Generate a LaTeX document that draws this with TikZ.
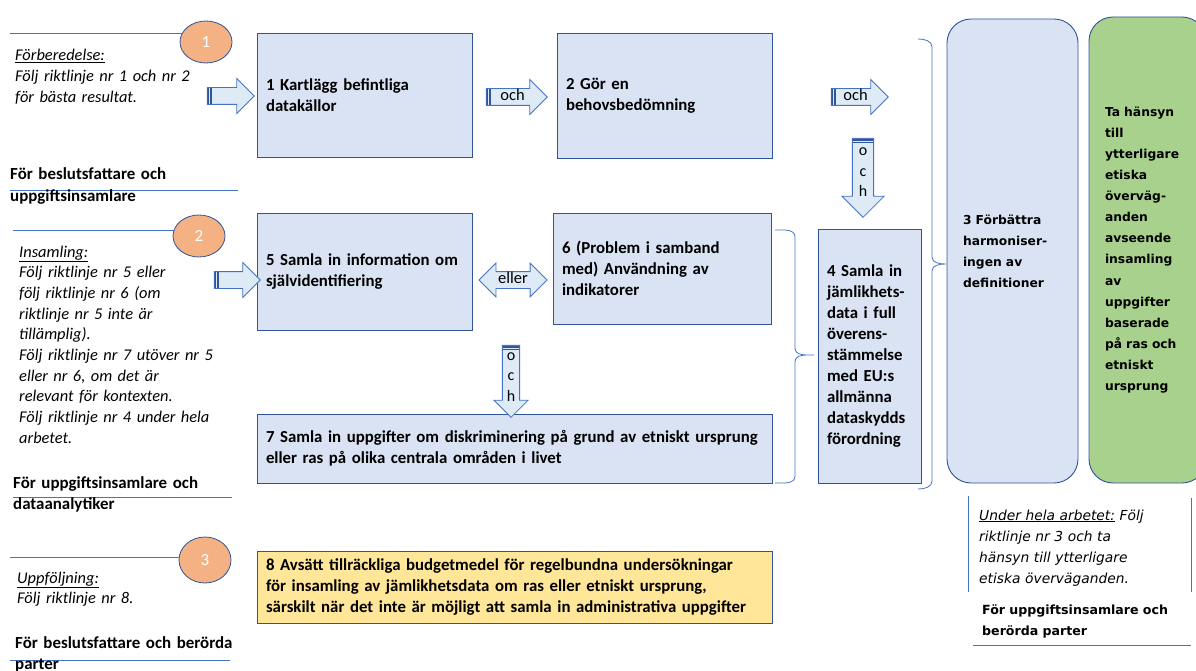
\documentclass[tikz,border=0pt]{standalone}
\usepackage{fontspec}
\setmainfont{Carlito}
\newfontfamily\verdfont{DejaVu Sans}
\usetikzlibrary{shapes.geometric,shapes.arrows}

\definecolor{boxfill}{HTML}{DAE3F3}
\definecolor{boxline}{HTML}{2F5597}
\definecolor{arrfill}{HTML}{DEEBF7}
\definecolor{arrline}{HTML}{4472C4}
\definecolor{arrdark}{HTML}{2F5597}
\definecolor{circfill}{HTML}{F4B183}
\definecolor{etikgreen}{HTML}{A9D18E}
\definecolor{budgetfill}{HTML}{FFE699}
\definecolor{sepblue}{HTML}{4472C4}

\newcommand{\boxfont}{\fontsize{16.8}{21}\selectfont\bfseries}
\newcommand{\sidefont}{\fontsize{16.4}{20.7}\selectfont}
\newcommand{\verdbold}{\verdfont\fontsize{12.3}{21.07}\selectfont\bfseries}

\tikzset{
  stepbox/.style={draw=boxline, fill=boxfill, line width=0.9pt, inner xsep=9pt, inner ysep=0pt, align=left, font=\boxfont},
  roundbox/.style={stepbox, rounded corners=24pt, inner xsep=16pt, font=\verdbold},
  numcirc/.style={ellipse, draw=boxline, fill=circfill, line width=0.8pt, minimum width=52pt, minimum height=42pt, inner sep=0pt, text=white, font=\fontsize{17}{18}\selectfont},
  phasetext/.style={anchor=base west, inner sep=0pt, align=left, text width=240pt, font=\sidefont\itshape},
  roletext/.style={anchor=base west, inner sep=0pt, align=left, text width=240pt, font=\fontsize{16.9}{21}\selectfont\bfseries},
  sepline/.style={draw=sepblue, line width=0.7pt},
  bracket/.style={draw=arrline, line width=0.8pt},
  blockarr/.style={single arrow, draw=arrline, fill=arrfill, line width=0.8pt, single arrow head extend=9pt, inner xsep=2pt, inner ysep=2.5pt, text height=9pt, text depth=2pt, font=\fontsize{16.5}{18}\selectfont},
  vertarr/.style={single arrow, draw=arrline, fill=arrfill, line width=0.8pt, shape border rotate=270, inner ysep=1pt, align=center, font=\fontsize{16}{20.5}\selectfont},
  tailleft/.style={path picture={
    \fill[arrdark] (path picture bounding box.north west) rectangle ([xshift=5pt]path picture bounding box.south west);
    \draw[arrfill, line width=0.6pt] ([xshift=2.5pt]path picture bounding box.north west) -- ([xshift=2.5pt]path picture bounding box.south west);}},
  tailtop/.style={path picture={
    \fill[arrdark] (path picture bounding box.north west) rectangle ([yshift=-5pt]path picture bounding box.north east);
    \draw[arrfill, line width=0.6pt] ([yshift=-2.5pt]path picture bounding box.north west) -- ([yshift=-2.5pt]path picture bounding box.north east);}}
}

\begin{document}
\begin{tikzpicture}[x=1pt, y=-1pt]
  \useasboundingbox (0,0) rectangle (1196,671);

  % steg
  \node[stepbox, text width=197pt, minimum height=124pt] (kartlagg) at (364.5,95) {1 Kartlägg befintliga\\datakällor};
  \node[stepbox, text width=197pt, minimum height=125pt] (behov) at (664.5,95.5) {2 Gör en\\behovsbedömning};
  \node[stepbox, text width=197pt, minimum height=117pt] (sjalvid) at (364.5,271.5) {5 Samla in information om\\självidentifiering};
  \node[stepbox, text width=200pt, minimum height=111pt] (indikator) at (662,268.5) {6 (Problem i samband\\med) Användning av\\indikatorer};
  \node[stepbox, text width=497pt, minimum height=69pt] (diskrim) at (514.5,448.5) {7 Samla in uppgifter om diskriminering på grund av etniskt ursprung\\eller ras på olika centrala områden i livet};
  \node[stepbox, text width=85pt, minimum height=254pt] (jamlik) at (869.5,356) {4 Samla in\\jämlikhets-\\data i full\\överens-\\stämmelse\\med EU:s\\allmänna\\dataskydds\\förordning};
  \node[stepbox, fill=budgetfill, text width=497pt, minimum height=72pt] (budget) at (514.5,587) {8 Avsätt tillräckliga budgetmedel för regelbundna undersökningar\\för insamling av jämlikhetsdata om ras eller etniskt ursprung,\\särskilt när det inte är möjligt att samla in administrativa uppgifter};
  \node[roundbox, text width=99pt, minimum height=464pt] (harmon) at (1012.5,251) {3 Förbättra\\harmoniser-\\ingen av\\definitioner};
  \node[roundbox, fill=etikgreen, text width=85pt, minimum height=466pt] (etik) at (1147.5,250) {Ta hänsyn\\till\\ytterligare\\etiska\\överväg-\\anden\\avseende\\insamling\\av\\uppgifter\\baserade\\på ras och\\etniskt\\ursprung};

  % pilar
  \node[blockarr, tailleft, minimum height=47pt, minimum width=34pt] (in1) at (226.5,96) {};
  \node[blockarr, tailleft, minimum height=46pt, minimum width=34pt] (in5) at (233,280) {};
  \node[blockarr, tailleft, minimum height=61pt, minimum width=33pt] (och1) at (512.5,97) {och};
  \node[blockarr, tailleft, minimum height=57pt, minimum width=33pt] (och2) at (855.5,97) {och};
  \node[blockarr, double arrow, double arrow head extend=8.5pt, minimum height=68pt, minimum width=33pt] (eller) at (513,280) {eller};
  \node[vertarr, tailtop, inner xsep=6pt, single arrow head extend=10.5pt, minimum height=79pt, minimum width=41pt] (och3) at (863,172.5) {o\\c\\h};
  \node[vertarr, tailtop, inner xsep=4pt, single arrow head extend=8.5pt, minimum height=72pt, minimum width=33pt] (och4) at (511,377) {o\\c\\h};

  % klamrar
  \draw[bracket] (918,39) to[out=0,in=90] (932,47) -- (932,257) to[out=-90,in=180] (946,264)
    to[out=180,in=90] (932,271) -- (932,481) to[out=-90,in=0] (918,489);
  \draw[bracket] (775,230) to[out=0,in=90] (795,237) -- (795,348) to[out=-90,in=180] (814,355)
    to[out=180,in=90] (795,362) -- (795,476) to[out=-90,in=0] (775,483);

  % faser
  \node[numcirc] (fas1) at (206,42) {1};
  \node[numcirc] (fas2) at (199,236) {2};
  \node[numcirc, minimum height=46pt] (fas3) at (205,560) {3};
  \coordinate (s1) at (10,33);
  \coordinate (s2) at (13,230);
  \coordinate (s3) at (10,557);
  \draw[sepline] (s1) -- (s1 -| fas1.155);
  \draw[sepline] (s2) -- (s2 -| fas2.165);
  \draw[sepline] (s3) -- (s3 -| fas3.172);
  \draw[sepline] (10,190) -- (238,190);
  \draw[sepline] (13,497) -- (232,497);
  \draw[sepline] (10,660) -- (230,660);

  \node[phasetext] (forbered) at (15,61) {\underline{Förberedelse:}\\Följ riktlinje nr 1 och nr 2\\för bästa resultat.};
  \node[roletext] (roll1) at (10,180) {För beslutsfattare och\\uppgiftsinsamlare};
  \node[phasetext] (insaml) at (19,257) {\underline{Insamling:}\\Följ riktlinje nr 5 eller\\följ riktlinje nr 6 (om\\riktlinje nr 5 inte är\\tillämplig).\\Följ riktlinje nr 7 utöver nr 5\\eller nr 6, om det är\\relevant för kontexten.\\Följ riktlinje nr 4 under hela\\arbetet.};
  \node[roletext] (roll2) at (13,488) {För uppgiftsinsamlare och\\dataanalytiker};
  \node[phasetext] (uppfolj) at (17,583) {\underline{Uppföljning:}\\Följ riktlinje nr 8.};
  \node[roletext] (roll3) at (15,648) {För beslutsfattare och berörda\\parter};

  % hela arbetet
  \draw[sepline] (968,496) -- (968,592);
  \draw[sepline] (1191,498) -- (1191,592);
  \draw[sepline] (973,645) -- (1191,645);
  \node[phasetext, font=\verdfont\fontsize{13.8}{21}\selectfont\itshape] (helaarb) at (979,520) {\underline{Under hela arbetet:} Följ\\riktlinje nr 3 och ta\\hänsyn till ytterligare\\etiska överväganden.};
  \node[roletext, font=\verdfont\fontsize{12.6}{21}\selectfont\bfseries] (roll4) at (982,614) {För uppgiftsinsamlare och\\berörda parter};
\end{tikzpicture}
\end{document}
